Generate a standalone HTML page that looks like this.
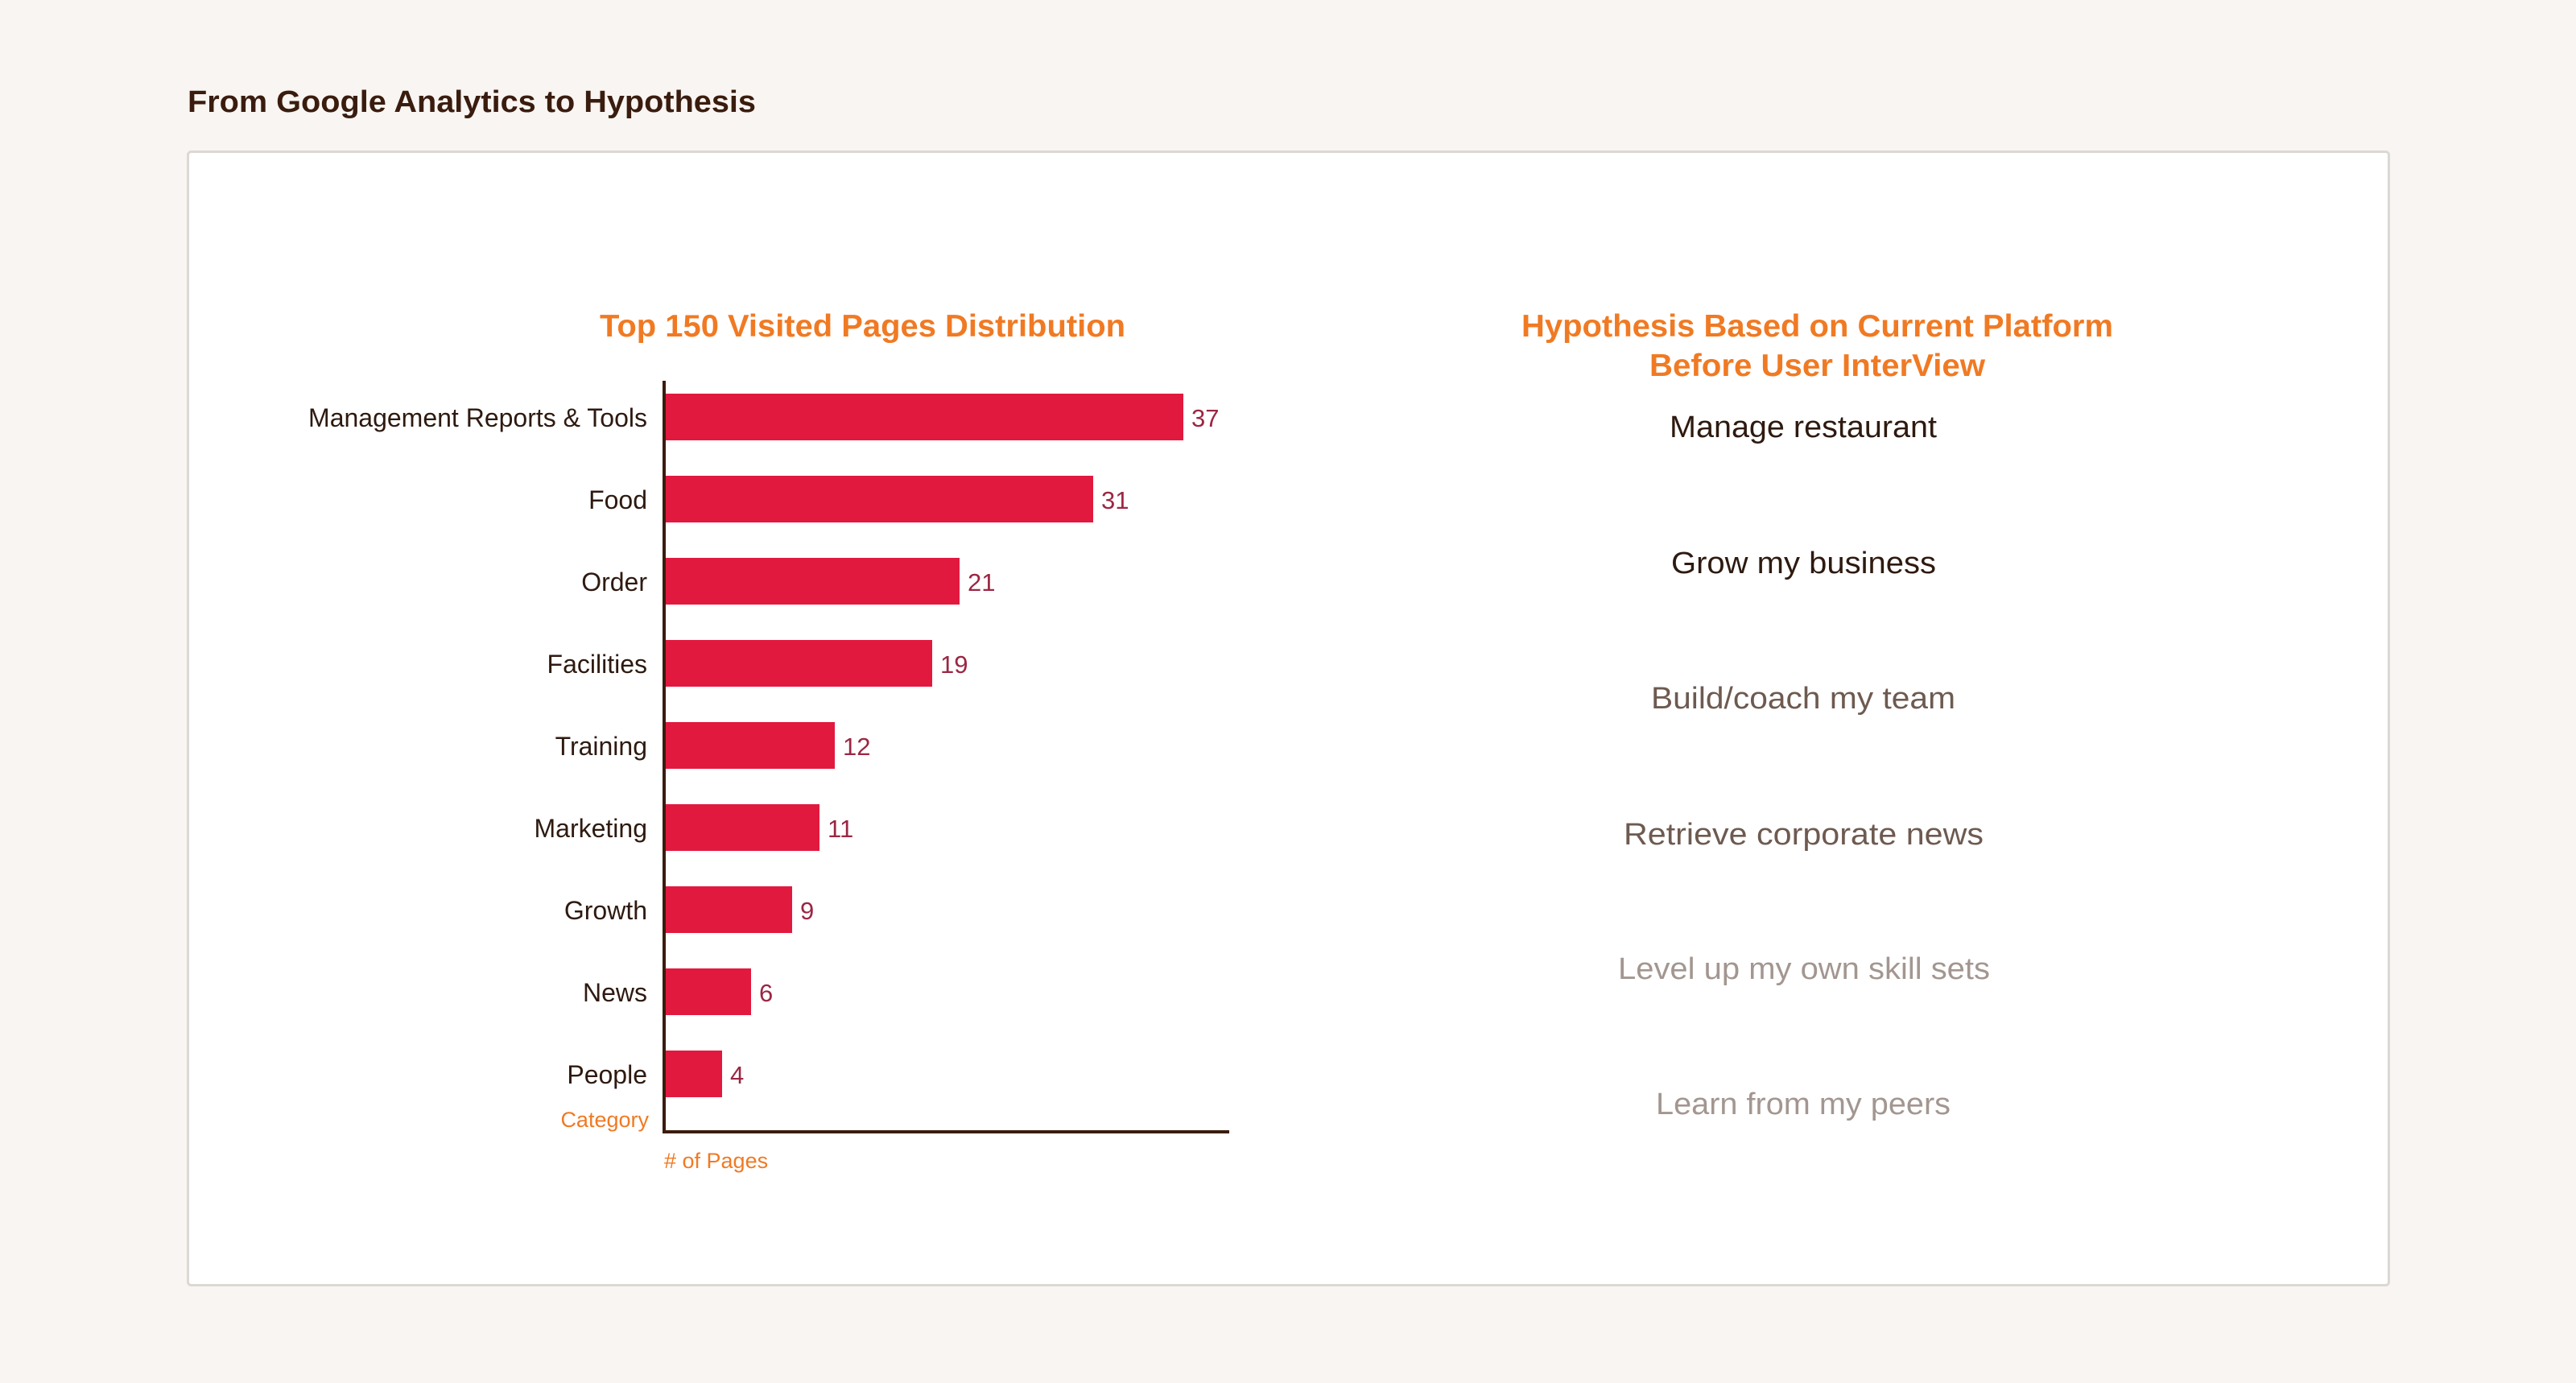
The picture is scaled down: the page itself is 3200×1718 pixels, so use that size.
<!DOCTYPE html>
<html><head><meta charset="utf-8"><style>
html,body{margin:0;padding:0;background:#f8f5f2;}
svg{display:block;}
text{font-family:"Liberation Sans",sans-serif;}
</style></head><body>
<svg width="3200" height="1718" viewBox="0 0 3200 1718" xmlns="http://www.w3.org/2000/svg">
<rect width="3200" height="1718" fill="#f8f5f2"/>
<text x="233" y="139" font-size="38" font-weight="bold" fill="#3a1c0e" textLength="706" lengthAdjust="spacingAndGlyphs">From Google Analytics to Hypothesis</text>
<rect x="233.5" y="188.5" width="2734" height="1408" rx="4" fill="#ffffff" stroke="#dcd8d4" stroke-width="3"/>
<text x="745" y="418" font-size="39" font-weight="bold" fill="#f07a23" textLength="653" lengthAdjust="spacingAndGlyphs">Top 150 Visited Pages Distribution</text>
<g fill="#e2193f">
<rect x="827" y="489" width="643" height="58"/>
<rect x="827" y="591" width="531" height="58"/>
<rect x="827" y="693" width="365" height="58"/>
<rect x="827" y="795" width="331" height="58"/>
<rect x="827" y="897" width="210" height="58"/>
<rect x="827" y="999" width="191" height="58"/>
<rect x="827" y="1101" width="157" height="58"/>
<rect x="827" y="1203" width="106" height="58"/>
<rect x="827" y="1305" width="70" height="58"/>
</g>
<g font-size="32" fill="#2e1a10" text-anchor="end">
<text x="804" y="530">Management Reports &amp; Tools</text>
<text x="804" y="632">Food</text>
<text x="804" y="734">Order</text>
<text x="804" y="836">Facilities</text>
<text x="804" y="938">Training</text>
<text x="804" y="1040">Marketing</text>
<text x="804" y="1142">Growth</text>
<text x="804" y="1244">News</text>
<text x="804" y="1346">People</text>
</g>
<g font-size="31" fill="#9b2743">
<text x="1480" y="530">37</text>
<text x="1368" y="632">31</text>
<text x="1202" y="734">21</text>
<text x="1168" y="836">19</text>
<text x="1047" y="938">12</text>
<text x="1028" y="1040">11</text>
<text x="994" y="1142">9</text>
<text x="943" y="1244">6</text>
<text x="907" y="1346">4</text>
</g>
<rect x="823" y="473" width="4" height="935" fill="#3a1c0e"/>
<rect x="823" y="1404" width="704" height="4" fill="#3a1c0e"/>
<text x="806" y="1400" font-size="27" fill="#f07a23" text-anchor="end">Category</text>
<text x="825" y="1451" font-size="27" fill="#f07a23">&#35; of Pages</text>
<text x="1890" y="418" font-size="39" font-weight="bold" fill="#f07a23" textLength="735" lengthAdjust="spacingAndGlyphs">Hypothesis Based on Current Platform</text>
<text x="2049" y="467" font-size="39" font-weight="bold" fill="#f07a23" textLength="417" lengthAdjust="spacingAndGlyphs">Before User InterView</text>
<g font-size="38">
<text x="2074" y="543" fill="#2e1a10" textLength="332" lengthAdjust="spacingAndGlyphs">Manage restaurant</text>
<text x="2076" y="712" fill="#2e1a10" textLength="329" lengthAdjust="spacingAndGlyphs">Grow my business</text>
<text x="2051" y="880" fill="#6e5a50" textLength="378" lengthAdjust="spacingAndGlyphs">Build/coach my team</text>
<text x="2017" y="1049" fill="#6e5a50" textLength="447" lengthAdjust="spacingAndGlyphs">Retrieve corporate news</text>
<text x="2010" y="1216" fill="#a39690" textLength="462" lengthAdjust="spacingAndGlyphs">Level up my own skill sets</text>
<text x="2057" y="1384" fill="#a39690" textLength="366" lengthAdjust="spacingAndGlyphs">Learn from my peers</text>
</g>
</svg>
</body></html>
